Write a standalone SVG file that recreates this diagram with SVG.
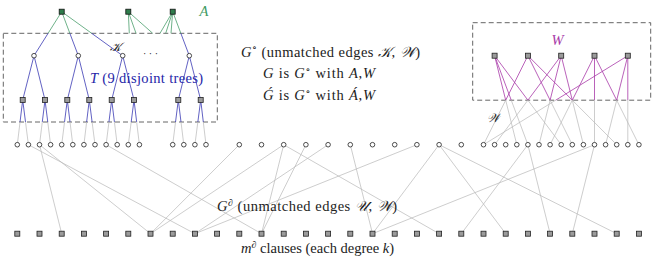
<svg xmlns="http://www.w3.org/2000/svg" xmlns:xlink="http://www.w3.org/1999/xlink" width="659" height="258" viewBox="0 0 659 258">
<style>
.c{fill:#fff;stroke:#222;stroke-width:0.8}
.s{fill:#9b9b9b;stroke:#222;stroke-width:0.8}
.a{fill:#2f7d4c;stroke:#111;stroke-width:0.8}
.box{fill:none;stroke:#555;stroke-width:0.9;stroke-dasharray:5 3}
.eb{fill:none;stroke:#3a3ab4;stroke-width:0.8}
.eg{fill:none;stroke:#4a9e6c;stroke-width:0.8}
.em{fill:none;stroke:#a83aa8;stroke-width:0.8}
.ex{fill:none;stroke:#b8b8b8;stroke-width:0.7}
text{font-family:"Liberation Serif","DejaVu Serif",serif;font-size:14.5px;fill:#222}
.i{font-style:italic}
.sup{font-size:10px}
</style>
<defs>
<circle id="cir" r="2.3" class="c"/>
<rect id="sqr" x="-2.5" y="-2.5" width="5" height="5" class="s"/>
<rect id="sqa" x="-2.5" y="-2.5" width="5" height="5" class="a"/>
</defs>
<g id="boxes">
<rect class="box" x="3.3" y="33.3" width="214" height="88.7"/>
<rect class="box" x="472.7" y="22.7" width="178" height="77.5"/>
</g>
<g id="connectors">
<path class="eg" d="M61.7 11.7L48.1 33.3M61.7 11.7L69.85 33.3M61.7 11.7L91.65 33.3M128.3 11.7L129.3 33.3M128.3 11.7L136 33.3M128.3 11.7L152.7 33.3M172.7 11.7L160 33.3M172.7 11.7L165.7 33.3M172.7 11.7L171 33.3M172.7 11.7L180.85 33.3"/>
<path class="eb" d="M48.1 33.3L34 55.7M69.85 33.3L78.3 55.7M91.65 33.3L122.7 55.7M180.85 33.3L189.3 55.7
M34 55.7L22.7 100M34 55.7L45 100M78.3 55.7L67.3 100M78.3 55.7L89.3 100M122.7 55.7L111.7 100M122.7 55.7L134 100M189.3 55.7L178.3 100M189.3 55.7L200.7 100
M22.7 100L20.04 122M22.7 100L25.5 122M45 100L42.29 122M45 100L47.76 122M67.3 100L64.54 122M67.3 100L70.01 122M89.3 100L86.64 122M89.3 100L92.1 122M111.7 100L108.94 122M111.7 100L114.41 122M134 100L131.2 122M134 100L136.66 122M178.3 100L175.54 122M178.3 100L181.01 122M200.7 100L197.85 122M200.7 100L203.31 122"/>
<path class="ex" d="M20.04 122L17.3 144.7M25.5 122L28.4 144.7M42.29 122L39.5 144.7M47.76 122L50.6 144.7M64.54 122L61.7 144.7M70.01 122L72.8 144.7M86.64 122L83.9 144.7M92.1 122L95 144.7M108.94 122L106.1 144.7M114.41 122L117.2 144.7M131.2 122L128.3 144.7M136.66 122L139.4 144.7M175.54 122L172.7 144.7M181.01 122L183.8 144.7M197.85 122L194.9 144.7M203.31 122L206 144.7"/>
<path class="em" d="M494.6 55.7L505.7 100.2M494.6 55.7L511.25 100.2M494.6 55.7L527.9 100.2M527.9 55.7L505.7 100.2M527.9 55.7L550.1 100.2M527.9 55.7L572.3 100.2M561.2 55.7L527.9 100.2M561.2 55.7L550.1 100.2M561.2 55.7L572.3 100.2M594.5 55.7L572.3 100.2M594.5 55.7L594.5 100.2M594.5 55.7L616.7 100.2M627.8 55.7L555.65 100.2M627.8 55.7L616.7 100.2M627.8 55.7L627.8 100.2"/>
<path class="ex" d="M505.7 100.2L516.8 144.7M511.25 100.2L527.9 144.7M527.9 100.2L561.2 144.7M505.7 100.2L483.5 144.7M550.1 100.2L572.3 144.7M572.3 100.2L616.7 144.7M527.9 100.2L494.6 144.7M550.1 100.2L539 144.7M572.3 100.2L583.4 144.7M572.3 100.2L550.1 144.7M594.5 100.2L594.5 144.7M616.7 100.2L638.9 144.7M555.65 100.2L483.5 144.7M616.7 100.2L605.6 144.7M627.8 100.2L627.8 144.7"/>
<path class="ex" d="M28.4 144.7L194.9 233.7M39.5 144.7L150.5 233.7M39.5 144.7L61.7 233.7M106.1 144.7L261.5 233.7M239.3 144.7L150.5 233.7M283.7 144.7L150.5 233.7M283.7 144.7L261.5 233.7M305.9 144.7L261.5 233.7M283.7 144.7L439.1 233.7M328.1 144.7L194.9 233.7M416.9 144.7L194.9 233.7M350.3 144.7L372.5 233.7M439.1 144.7L372.5 233.7M439.1 144.7L505.7 233.7M439.1 144.7L616.7 233.7M594.5 144.7L372.5 233.7M527.9 144.7L461.3 233.7M527.9 144.7L550.1 233.7M594.5 144.7L572.3 233.7"/>
</g>
<g id="A-nodes">
<g id="A1"><use href="#sqa" x="61.7" y="11.7"/></g>
<g id="A2"><use href="#sqa" x="128.3" y="11.7"/></g>
<g id="A3"><use href="#sqa" x="172.7" y="11.7"/></g>
</g>
<g id="roots">
<g id="R1"><use href="#cir" x="34" y="55.7"/></g>
<g id="R2"><use href="#cir" x="78.3" y="55.7"/></g>
<g id="R3"><use href="#cir" x="122.7" y="55.7"/></g>
<g id="R4"><use href="#cir" x="189.3" y="55.7"/></g>
</g>
<g id="tree-squares">
<g id="S1"><use href="#sqr" x="22.7" y="100"/></g>
<g id="S2"><use href="#sqr" x="45" y="100"/></g>
<g id="S3"><use href="#sqr" x="67.3" y="100"/></g>
<g id="S4"><use href="#sqr" x="89.3" y="100"/></g>
<g id="S5"><use href="#sqr" x="111.7" y="100"/></g>
<g id="S6"><use href="#sqr" x="134" y="100"/></g>
<g id="S7"><use href="#sqr" x="178.3" y="100"/></g>
<g id="S8"><use href="#sqr" x="200.7" y="100"/></g>
</g>
<g id="W-nodes">
<g id="W1"><use href="#sqr" x="494.6" y="55.7"/></g>
<g id="W2"><use href="#sqr" x="527.9" y="55.7"/></g>
<g id="W3"><use href="#sqr" x="561.2" y="55.7"/></g>
<g id="W4"><use href="#sqr" x="594.5" y="55.7"/></g>
<g id="W5"><use href="#sqr" x="627.8" y="55.7"/></g>
</g>
<g id="variables">
<g id="v0"><use href="#cir" x="17.3" y="144.7"/></g>
<g id="v1"><use href="#cir" x="28.4" y="144.7"/></g>
<g id="v2"><use href="#cir" x="39.5" y="144.7"/></g>
<g id="v3"><use href="#cir" x="50.6" y="144.7"/></g>
<g id="v4"><use href="#cir" x="61.7" y="144.7"/></g>
<g id="v5"><use href="#cir" x="72.8" y="144.7"/></g>
<g id="v6"><use href="#cir" x="83.9" y="144.7"/></g>
<g id="v7"><use href="#cir" x="95" y="144.7"/></g>
<g id="v8"><use href="#cir" x="106.1" y="144.7"/></g>
<g id="v9"><use href="#cir" x="117.2" y="144.7"/></g>
<g id="v10"><use href="#cir" x="128.3" y="144.7"/></g>
<g id="v11"><use href="#cir" x="139.4" y="144.7"/></g>
<g id="v14"><use href="#cir" x="172.7" y="144.7"/></g>
<g id="v15"><use href="#cir" x="183.8" y="144.7"/></g>
<g id="v16"><use href="#cir" x="194.9" y="144.7"/></g>
<g id="v17"><use href="#cir" x="206" y="144.7"/></g>
<g id="v20"><use href="#cir" x="239.3" y="144.7"/></g>
<g id="v22"><use href="#cir" x="261.5" y="144.7"/></g>
<g id="v24"><use href="#cir" x="283.7" y="144.7"/></g>
<g id="v26"><use href="#cir" x="305.9" y="144.7"/></g>
<g id="v28"><use href="#cir" x="328.1" y="144.7"/></g>
<g id="v30"><use href="#cir" x="350.3" y="144.7"/></g>
<g id="v32"><use href="#cir" x="372.5" y="144.7"/></g>
<g id="v34"><use href="#cir" x="394.7" y="144.7"/></g>
<g id="v36"><use href="#cir" x="416.9" y="144.7"/></g>
<g id="v38"><use href="#cir" x="439.1" y="144.7"/></g>
<g id="v40"><use href="#cir" x="461.3" y="144.7"/></g>
<g id="v42"><use href="#cir" x="483.5" y="144.7"/></g>
<g id="v43"><use href="#cir" x="494.6" y="144.7"/></g>
<g id="v44"><use href="#cir" x="505.7" y="144.7"/></g>
<g id="v45"><use href="#cir" x="516.8" y="144.7"/></g>
<g id="v46"><use href="#cir" x="527.9" y="144.7"/></g>
<g id="v47"><use href="#cir" x="539" y="144.7"/></g>
<g id="v48"><use href="#cir" x="550.1" y="144.7"/></g>
<g id="v49"><use href="#cir" x="561.2" y="144.7"/></g>
<g id="v50"><use href="#cir" x="572.3" y="144.7"/></g>
<g id="v51"><use href="#cir" x="583.4" y="144.7"/></g>
<g id="v52"><use href="#cir" x="594.5" y="144.7"/></g>
<g id="v53"><use href="#cir" x="605.6" y="144.7"/></g>
<g id="v54"><use href="#cir" x="616.7" y="144.7"/></g>
<g id="v55"><use href="#cir" x="627.8" y="144.7"/></g>
<g id="v56"><use href="#cir" x="638.9" y="144.7"/></g>
</g>
<g id="clauses">
<g id="q0"><use href="#sqr" x="17.3" y="233.7"/></g>
<g id="q1"><use href="#sqr" x="39.5" y="233.7"/></g>
<g id="q2"><use href="#sqr" x="61.7" y="233.7"/></g>
<g id="q3"><use href="#sqr" x="83.9" y="233.7"/></g>
<g id="q4"><use href="#sqr" x="106.1" y="233.7"/></g>
<g id="q5"><use href="#sqr" x="128.3" y="233.7"/></g>
<g id="q6"><use href="#sqr" x="150.5" y="233.7"/></g>
<g id="q7"><use href="#sqr" x="172.7" y="233.7"/></g>
<g id="q8"><use href="#sqr" x="194.9" y="233.7"/></g>
<g id="q9"><use href="#sqr" x="217.1" y="233.7"/></g>
<g id="q10"><use href="#sqr" x="239.3" y="233.7"/></g>
<g id="q11"><use href="#sqr" x="261.5" y="233.7"/></g>
<g id="q12"><use href="#sqr" x="283.7" y="233.7"/></g>
<g id="q13"><use href="#sqr" x="305.9" y="233.7"/></g>
<g id="q14"><use href="#sqr" x="328.1" y="233.7"/></g>
<g id="q15"><use href="#sqr" x="350.3" y="233.7"/></g>
<g id="q16"><use href="#sqr" x="372.5" y="233.7"/></g>
<g id="q17"><use href="#sqr" x="394.7" y="233.7"/></g>
<g id="q18"><use href="#sqr" x="416.9" y="233.7"/></g>
<g id="q19"><use href="#sqr" x="439.1" y="233.7"/></g>
<g id="q20"><use href="#sqr" x="461.3" y="233.7"/></g>
<g id="q21"><use href="#sqr" x="483.5" y="233.7"/></g>
<g id="q22"><use href="#sqr" x="505.7" y="233.7"/></g>
<g id="q23"><use href="#sqr" x="527.9" y="233.7"/></g>
<g id="q24"><use href="#sqr" x="550.1" y="233.7"/></g>
<g id="q25"><use href="#sqr" x="572.3" y="233.7"/></g>
<g id="q26"><use href="#sqr" x="594.5" y="233.7"/></g>
<g id="q27"><use href="#sqr" x="616.7" y="233.7"/></g>
<g id="q28"><use href="#sqr" x="638.9" y="233.7"/></g>
</g>
<g id="labels">
<text x="199.5" y="15.7" class="i" style="fill:#3f9a63">A</text>
<text x="551.5" y="45" class="i" style="fill:#a83aa8">W</text>
<text x="143" y="57" style="font-size:10px">· · ·</text>
<text x="110" y="51" class="i" style="font-size:12px">𝒦</text>
<text x="487" y="122" class="i" style="font-size:12px">𝒲</text>
<text x="90" y="83.3" style="fill:#2424a8" textLength="113" lengthAdjust="spacing"><tspan class="i">T</tspan> (9 disjoint trees)</text>
<text x="241" y="56.7" textLength="179" lengthAdjust="spacing"><tspan class="i">G</tspan><tspan dy="-5.5" class="sup">∘</tspan><tspan dy="5.5"> (unmatched edges </tspan><tspan class="i">𝒦</tspan>, <tspan class="i">𝒲</tspan>)</text>
<text x="263" y="78.3" textLength="112" lengthAdjust="spacing"><tspan class="i">G</tspan> is <tspan class="i">G</tspan><tspan dy="-5.5" class="sup">∘</tspan><tspan dy="5.5"> with </tspan><tspan class="i">A</tspan>,<tspan class="i">W</tspan></text>
<text x="263" y="100.3" textLength="112" lengthAdjust="spacing"><tspan class="i">Ǵ</tspan> is <tspan class="i">G</tspan><tspan dy="-5.5" class="sup">∘</tspan><tspan dy="5.5"> with </tspan><tspan class="i">Á</tspan>,<tspan class="i">W</tspan></text>
<text x="217" y="211" textLength="180" lengthAdjust="spacing"><tspan class="i">G</tspan><tspan dy="-5.5" class="sup">∂</tspan><tspan dy="5.5"> (unmatched edges </tspan><tspan class="i">𝒰</tspan>, <tspan class="i">𝒲</tspan>)</text>
<text x="241" y="253.3" textLength="153" lengthAdjust="spacing"><tspan class="i">m</tspan><tspan dy="-5.5" class="sup">∂</tspan><tspan dy="5.5"> clauses (each degree </tspan><tspan class="i">k</tspan>)</text>
</g>
</svg>
